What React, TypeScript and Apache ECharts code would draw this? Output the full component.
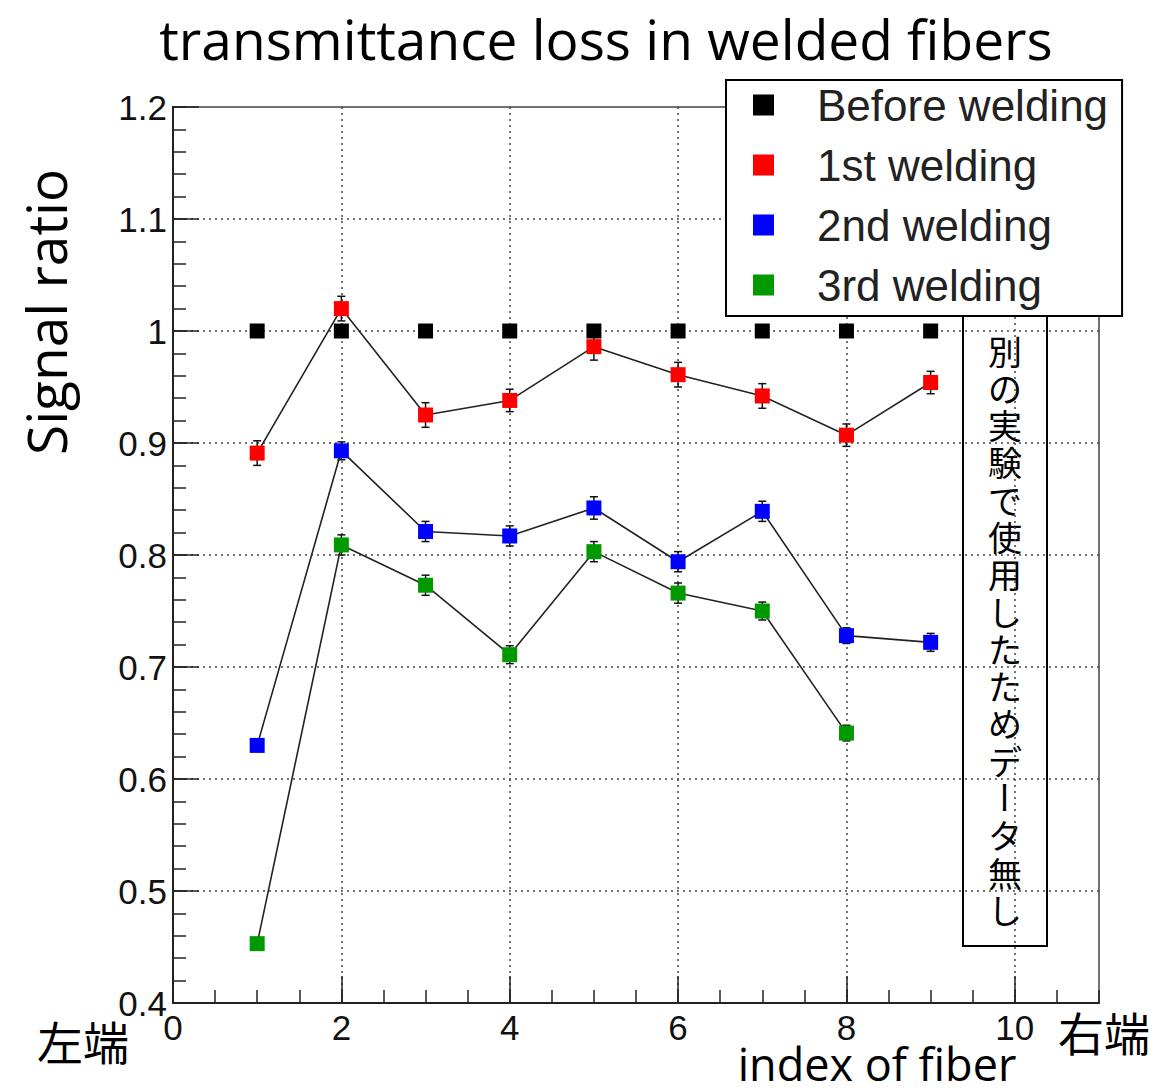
import React, { useEffect, useRef } from "react";
import * as echarts from "echarts";

const fiberIndex = [1, 2, 3, 4, 5, 6, 7, 8, 9];
const beforeWelding = [1.0, 1.0, 1.0, 1.0, 1.0, 1.0, 1.0, 1.0, 1.0];
const firstWelding = [0.891, 1.02, 0.925, 0.938, 0.986, 0.961, 0.942, 0.907, 0.954];
const secondWelding = [0.63, 0.893, 0.821, 0.817, 0.842, 0.794, 0.839, 0.728, 0.722];
const thirdWelding = [0.453, 0.809, 0.773, 0.711, 0.803, 0.766, 0.75, 0.641];
const firstErr = [0.011, 0.011, 0.011, 0.01, 0.012, 0.011, 0.011, 0.01, 0.01];
const secondErr = [0.004, 0.008, 0.009, 0.009, 0.01, 0.009, 0.009, 0.007, 0.008];
const thirdErr = [0.003, 0.009, 0.009, 0.008, 0.009, 0.009, 0.008, 0.007];

const seriesNames = ["Before welding", "1st welding", "2nd welding", "3rd welding"];
const seriesColors = ["#000000", "#ff0000", "#0000ff", "#009900"];

const titleText = "transmittance loss in welded fibers";
const yTitle = "Signal ratio";
const xTitle = "index of fiber";
const leftEnd = "左端";
const rightEnd = "右端";
// vertical note, split where the long-vowel mark must be turned upright
const noteParts = ["別の実験で使用したためデ", "ー", "タ無し"];

const TICK_FONT = "'Liberation Sans', Arial, sans-serif";
const TITLE_FONT = "'Open Sans', 'Noto Sans', sans-serif";
const CJK_FONT = "'Noto Sans CJK JP', sans-serif";

function pairs(values: number[]) {
  return values.map((v, i) => [fiberIndex[i], v]);
}
function errTriples(values: number[], errs: number[]) {
  return values.map((v, i) => [fiberIndex[i], v, errs[i]]);
}

export default function App() {
  const ref = useRef<HTMLDivElement>(null);
  useEffect(() => {
    if (!ref.current) return;
    const chart = echarts.init(ref.current, undefined, { renderer: "svg" });

    const errorData = [
      ...errTriples(firstWelding, firstErr),
      ...errTriples(secondWelding, secondErr),
      ...errTriples(thirdWelding, thirdErr),
    ];

    const lineSeries = [beforeWelding, firstWelding, secondWelding, thirdWelding].map((vals, i) => ({
      type: "line",
      name: seriesNames[i],
      data: pairs(vals),
      xAxisIndex: 0,
      yAxisIndex: 0,
      symbol: "rect",
      symbolSize: 15,
      showSymbol: true,
      itemStyle: { color: seriesColors[i] },
      lineStyle: i === 0 ? { width: 0, opacity: 0 } : { color: "#222", width: 1.6 },
      z: 5 + i,
    }));

    const noteFirstCenter = 350;
    const noteStep = 37.3;
    const noteTexts: any[] = [];
    let charIdx = 0;
    noteParts.forEach((part) => {
      const chars = Array.from(part);
      if (part === "ー") {
        noteTexts.push({
          type: "text",
          x: 1005,
          y: noteFirstCenter + charIdx * noteStep,
          rotation: -Math.PI / 2,
          style: {
            text: part,
            font: `normal 34px ${CJK_FONT}`,
            fill: "#000",
            align: "center",
            verticalAlign: "middle",
            lineHeight: noteStep,
          },
        });
      } else {
        noteTexts.push({
          type: "text",
          x: 1005,
          y: noteFirstCenter + charIdx * noteStep - noteStep / 2,
          style: {
            text: chars.join("\n"),
            font: `normal 34px ${CJK_FONT}`,
            fill: "#000",
            align: "center",
            verticalAlign: "top",
            lineHeight: noteStep,
          },
        });
      }
      charIdx += chars.length;
    });

    chart.setOption({
      animation: false,
      title: {
        text: titleText,
        left: 601,
        top: 6,
        textAlign: "center",
        textStyle: { fontFamily: TITLE_FONT, fontSize: 55, lineHeight: 55, fontWeight: "normal", color: "#000" },
      },
      grid: {
        left: 173,
        top: 107,
        width: 926,
        height: 896,
        show: true,
        borderColor: "#444",
        borderWidth: 1.5,
        backgroundColor: "transparent",
      },
      legend: {
        data: seriesNames,
        orient: "vertical",
        left: 726,
        top: 80,
        icon: "rect",
        itemWidth: 21,
        itemHeight: 21,
        itemGap: 16,
        padding: [3, 14, 9, 27],
        backgroundColor: "#fff",
        borderColor: "#000",
        borderWidth: 2,
        selectedMode: false,
        z: 20,
        textStyle: {
          fontFamily: TICK_FONT,
          fontSize: 44,
          color: "#222",
          padding: [0, 0, 0, 38],
        },
      },
      xAxis: [
        {
          type: "value",
          min: 0,
          max: 11,
          interval: 2,
          position: "bottom",
          axisLine: { show: true, onZero: false, lineStyle: { color: "#222", width: 2 } },
          axisTick: { show: true, inside: true, length: 27, lineStyle: { color: "#222", width: 1.5 } },
          axisLabel: {
            fontFamily: TICK_FONT,
            fontSize: 35,
            color: "#111",
            margin: 7,
            showMaxLabel: false,
          },
          splitLine: {
            show: true,
            showMinLine: false,
            showMaxLine: false,
            lineStyle: { color: "#444", width: 1.5, type: [2, 4] },
          },
        },
        {
          type: "value",
          min: 0,
          max: 11,
          interval: 0.5,
          position: "bottom",
          axisLine: { show: false },
          axisTick: { show: true, inside: true, length: 13, lineStyle: { color: "#222", width: 1.5 } },
          axisLabel: { show: false },
          splitLine: { show: false },
        },
      ],
      yAxis: [
        {
          type: "value",
          min: 0.4,
          max: 1.2,
          interval: 0.1,
          position: "left",
          axisLine: { show: true, onZero: false, lineStyle: { color: "#222", width: 2 } },
          axisTick: { show: true, inside: true, length: 26, lineStyle: { color: "#222", width: 1.5 } },
          axisLabel: {
            fontFamily: TICK_FONT,
            fontSize: 35,
            color: "#111",
            margin: 6,
          },
          splitLine: {
            show: true,
            showMinLine: false,
            showMaxLine: false,
            lineStyle: { color: "#444", width: 1.5, type: [2, 4] },
          },
        },
        {
          type: "value",
          min: 0.4,
          max: 1.2,
          interval: 0.02,
          position: "left",
          axisLine: { show: false },
          axisTick: { show: true, inside: true, length: 13, lineStyle: { color: "#222", width: 1.5 } },
          axisLabel: { show: false },
          splitLine: { show: false },
        },
      ],
      series: [
        {
          type: "custom",
          name: "errors",
          xAxisIndex: 0,
          yAxisIndex: 0,
          data: errorData,
          z: 4,
          renderItem: (params: any, api: any) => {
            const x = api.value(0);
            const y = api.value(1);
            const e = api.value(2);
            const hi = api.coord([x, y + e]);
            const lo = api.coord([x, y - e]);
            const cap = 4;
            const st = { stroke: "#111", lineWidth: 1.5 };
            return {
              type: "group",
              children: [
                { type: "line", shape: { x1: hi[0], y1: hi[1], x2: lo[0], y2: lo[1] }, style: st },
                { type: "line", shape: { x1: hi[0] - cap, y1: hi[1], x2: hi[0] + cap, y2: hi[1] }, style: st },
                { type: "line", shape: { x1: lo[0] - cap, y1: lo[1], x2: lo[0] + cap, y2: lo[1] }, style: st },
              ],
            };
          },
        },
        ...lineSeries,
      ],
      graphic: [
        {
          type: "text",
          x: 45,
          y: 312,
          rotation: Math.PI / 2,
          style: {
            text: yTitle,
            font: `normal 55px ${TITLE_FONT}`,
            fill: "#000",
            align: "center",
            verticalAlign: "middle",
            lineHeight: 50,
          },
        },
        {
          type: "text",
          x: 877,
          y: 1063,
          style: {
            text: xTitle,
            font: `normal 45px ${TITLE_FONT}`,
            fill: "#000",
            align: "center",
            verticalAlign: "middle",
            lineHeight: 40,
          },
        },
        {
          type: "text",
          x: 83,
          y: 1040,
          style: { text: leftEnd, font: `normal 46px ${CJK_FONT}`, fill: "#000", align: "center", verticalAlign: "middle", lineHeight: 46 },
        },
        {
          type: "text",
          x: 1104,
          y: 1031,
          style: { text: rightEnd, font: `normal 46px ${CJK_FONT}`, fill: "#000", align: "center", verticalAlign: "middle", lineHeight: 46 },
        },
        {
          type: "group",
          z: 15,
          children: [
            {
              type: "rect",
              shape: { x: 963, y: 313, width: 84, height: 633 },
              style: { fill: "#fff", stroke: "#000", lineWidth: 2 },
            },
            ...noteTexts,
          ],
        },
      ],
    });
    return () => chart.dispose();
  }, []);

  return (
    <div
      ref={ref}
      style={{ position: "fixed", left: 0, top: 0, width: 1175, height: 1088, background: "#fff" }}
    />
  );
}
